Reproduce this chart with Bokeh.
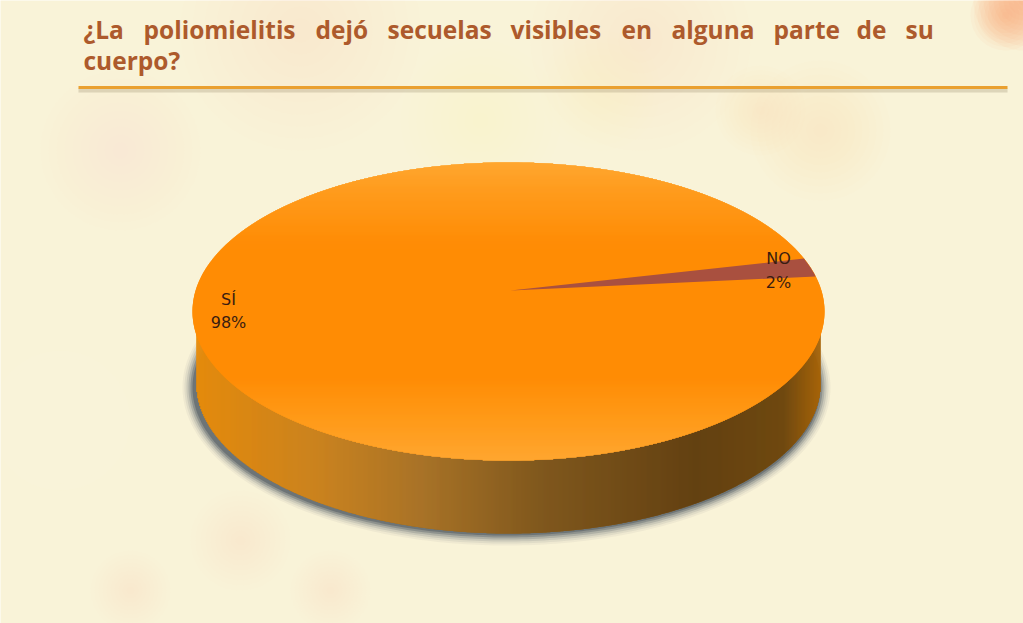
import numpy as np
from bokeh.plotting import figure
from bokeh.embed import file_html
from bokeh.resources import INLINE
from bokeh.core.properties import value

categories = ["SÍ", "NO"]
shares = [98, 2]
slice_colors = ["#ff8c05", "#a9503f"]
title_line1 = ["¿La", "poliomielitis", "dejó", "secuelas", "visibles", "en", "alguna", "parte", "de", "su"]
title_line1_x = [83, 143, 315, 387, 510, 621, 671, 773, 856, 905]
title_line2 = "cuerpo?"

BG = "#f9f3d8"
W, H = 1023, 623
p = figure(width=W, height=H, x_range=(0, W), y_range=(H, 0), output_backend="svg",
           toolbar_location=None, min_border=0, outline_line_color=None,
           background_fill_color=BG, border_fill_color=BG)
p.axis.visible = False
p.grid.visible = False

# soft background mottling
blot_x = [1023, 1005, 820, 760, 240, 130, 480, 300, 60, 640, 330, 120, 600]
blot_y = [0, 15, 130, 110, 540, 590, 120, 30, 420, 40, 590, 150, 90]
blot_r = [50, 35, 70, 45, 50, 40, 80, 120, 70, 110, 40, 80, 60]
blot_c = ["#ff9a60", "#ffa878", "#f6cfa6", "#f6d2ac", "#f6cfa8", "#f6d6b0", "#f7e6bc", "#f7ebc4", "#fbf6e2", "#f7ebc4", "#f6dcb6", "#f7e8c0", "#f7e6bc"]
blot_a = [.06, .06, .018, .018, .015, .015, .02, .03, .05, .03, .015, .025, .02]
for frac in np.arange(.1, 1.01, .1):
    p.scatter(blot_x, blot_y, size=[2 * r * frac for r in blot_r], fill_color=blot_c,
              fill_alpha=blot_a, line_color=None)

# geometry of the 3D pie
cx, cy, rx, ry = 508, 311, 316, 149
bx, by, brx, bry = 508, 383, 312, 150
ax, ay = 510, 290
tt = np.linspace(0, 2 * np.pi, 360)


def lerp(stops, t):
    xs = [s[0] for s in stops]
    rgb = [np.interp(t, xs, [int(s[1][i:i + 2], 16) for s in stops]) for i in (1, 3, 5)]
    return "#%02x%02x%02x" % tuple(int(round(v)) for v in rgb)


# shadow
for grow, alpha in [(8, .06), (6, .09), (4, .14), (2, .22), (0, .35), (-2, .5)]:
    p.patch(bx - 2 + (brx + 4 + grow) * np.cos(tt), by + 4 + (bry + grow) * np.sin(tt),
            fill_color="#4e5860", fill_alpha=alpha, line_color=None)

# opaque backing of the side wall
p.patch(bx + brx * np.cos(tt), by + bry * np.sin(tt), fill_color="#8a6018", fill_alpha=1, line_color=None)

# side wall
side_stops = [(0, "#e88c0c"), (.2, "#cc8420"), (.36, "#aa7428"), (.55, "#80581e"),
              (.8, "#624012"), (.94, "#6e4810"), (1, "#a86408")]
col_x = np.arange(bx - brx, bx + brx, 1.0)
top_y, bot_y, colors = [], [], []
for x in col_x:
    u = np.clip((x + .5 - cx) / rx, -1, 1)
    v = np.clip((x + .5 - bx) / brx, -1, 1)
    top_y.append(cy + ry * np.sqrt(1 - u * u) - 3)
    bot_y.append(by + bry * np.sqrt(1 - v * v))
    colors.append(lerp(side_stops, (x - (bx - brx)) / (2 * brx)))
p.quad(left=col_x - .3, right=col_x + 1.3, top=top_y, bottom=bot_y, fill_color=colors, fill_alpha=1, line_color=None)

# top surface
p.patch(cx + rx * np.cos(tt), cy + ry * np.sin(tt), fill_color=slice_colors[0], fill_alpha=1, line_color=None)
top_stops = [(0, "#ffa833"), (.1, "#ff9c1e"), (.25, "#ff8e08"), (.3, "#ff8c05"), (.72, "#ff8c05"), (.85, "#ff9a18"), (1, "#ffa833")]
rows = np.arange(cy - ry, cy + ry, 1.0)
half = rx * np.sqrt(np.clip(1 - ((rows + .5 - cy) / ry) ** 2, 0, 1))
p.quad(left=cx - half, right=cx + half, top=rows - .3, bottom=rows + 1.3,
       fill_color=[lerp(top_stops, (r - rows[0]) / (2 * ry)) for r in rows], fill_alpha=1, line_color=None)

# NO slice, swept from its share
start = 13.6
sweep = shares[1] / sum(shares) * 360
theta = np.radians(np.linspace(start, start + sweep, 24))
p.patch(np.r_[ax, cx + rx * np.cos(theta)], np.r_[ay, cy - ry * np.sin(theta)],
        fill_color=slice_colors[1], line_color=None)

# data labels
lab_x = [228, 778]
lab_y = [299, 258]
pct_y = [322, 282]
font = value("DejaVu Sans")
p.text(lab_x, lab_y, text=categories, text_font=font, text_font_size="16px", text_color="#3a1c10",
       text_align="center", text_baseline="middle")
p.text(lab_x, pct_y, text=[f"{s}%" for s in shares], text_font=font, text_font_size="16px", text_color="#3a1c10",
       text_align="center", text_baseline="middle")

# title
tfont = value("Open Sans")
p.text(title_line1_x, [29] * len(title_line1), text=title_line1, text_font=tfont, text_font_size="24.5px",
       text_font_style="bold", text_color="#ad5a2c", text_align="left", text_baseline="middle")
p.text([83], [60], text=[title_line2], text_font=tfont, text_font_size="24.5px",
       text_font_style="bold", text_color="#ad5a2c", text_align="left", text_baseline="middle")

# rule
rule_x = [78, 1007]
p.line(rule_x, [90, 90], line_color="#8a7a5a", line_alpha=.25, line_width=4)
p.line(rule_x, [87, 87], line_color="#eaa030", line_width=3)

open("out.html", "w").write(file_html(p, INLINE))
